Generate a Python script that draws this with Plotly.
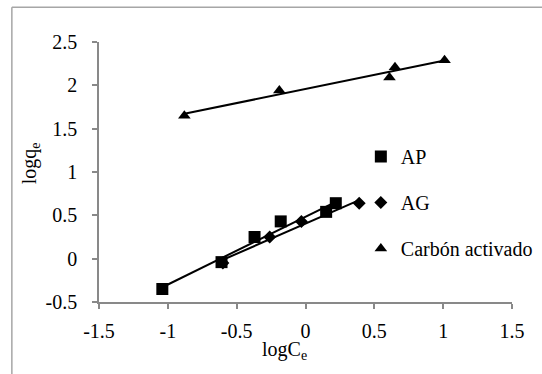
import numpy as np
import plotly.graph_objects as go

# Data
ap_x = [-1.04, -0.61, -0.37, -0.18, 0.15, 0.22]
ap_y = [-0.35, -0.04, 0.25, 0.43, 0.54, 0.64]
ag_x = [-0.60, -0.26, -0.03, 0.39]
ag_y = [-0.05, 0.25, 0.43, 0.64]
ca_x = [-0.88, -0.19, 0.61, 0.65, 1.01]
ca_y = [1.65, 1.94, 2.09, 2.21, 2.29]
series_names = ["AP", "AG", "Carbón activado"]
x_ticks = [-1.5, -1, -0.5, 0, 0.5, 1, 1.5]
x_ticktext = ["-1.5", "-1", "-0.5", "0", "0.5", "1", "1.5"]
y_ticks = [-0.5, 0, 0.5, 1, 1.5, 2, 2.5]
y_ticktext = ["-0.5", "0", "0.5", "1", "1.5", "2", "2.5"]
x_title = "logC<sub>e</sub>"
y_title = "logq<sub>e</sub>"

FONT = "Liberation Serif"
FS = 20
AXIS_GRAY = "#898989"

fig = go.Figure()

def trend(xs, ys):
    m, b = np.polyfit(xs, ys, 1)
    lx = np.array([min(xs), max(xs)])
    return lx, m * lx + b

symbols = ["square", "diamond", "triangle-up"]
sizes = [12, 10, 11]
data = [(ap_x, ap_y), (ag_x, ag_y), (ca_x, ca_y)]

for (xs, ys), name, sym, sz in zip(data, series_names, symbols, sizes):
    lx, ly = trend(xs, ys)
    fig.add_trace(go.Scatter(x=lx, y=ly, mode="lines",
                             line=dict(color="black", width=2),
                             showlegend=False, hoverinfo="skip"))
for i, ((xs, ys), name, sym, sz) in enumerate(zip(data, series_names, symbols, sizes)):
    fig.add_trace(go.Scatter(x=xs, y=ys, mode="markers", name=name,
                             legendgroup=f"g{i}",
                             marker=dict(symbol=sym, size=sz, color="black",
                                         line=dict(width=0))))

fig.update_layout(
    width=542, height=374,
    margin=dict(l=99, r=30, t=42, b=72, autoexpand=False),
    paper_bgcolor="white", plot_bgcolor="white",
    font=dict(family=FONT, size=FS, color="black"),
    showlegend=True,
    legend=dict(x=0.634, y=0.635, xanchor="left", yanchor="top",
                bgcolor="rgba(0,0,0,0)", tracegroupgap=17,
                font=dict(family=FONT, size=FS, color="black")),
    xaxis=dict(range=[-1.5, 1.5], tickvals=x_ticks, ticktext=x_ticktext,
               showgrid=False, zeroline=False, showline=True,
               linecolor=AXIS_GRAY, linewidth=1.5,
               ticks="outside", ticklen=5, tickcolor=AXIS_GRAY, tickwidth=1.5,
               ticklabelstandoff=5, automargin=False,
               tickfont=dict(family=FONT, size=FS, color="black")),
    yaxis=dict(range=[-0.5, 2.5], tickvals=y_ticks, ticktext=y_ticktext,
               showgrid=False, zeroline=False, showline=True,
               linecolor=AXIS_GRAY, linewidth=1.5,
               ticks="outside", ticklen=5, tickcolor=AXIS_GRAY, tickwidth=1.5,
               ticklabelstandoff=11, automargin=False,
               tickfont=dict(family=FONT, size=FS, color="black")),
)

fig.add_annotation(text=x_title, xref="paper", yref="paper",
                   x=0.45, y=-0.187, xanchor="center", yanchor="middle",
                   showarrow=False, font=dict(family=FONT, size=FS, color="black"))
fig.add_annotation(text=y_title, xref="paper", yref="paper", textangle=-90,
                   x=-0.167, y=0.534, xanchor="center", yanchor="middle",
                   showarrow=False, font=dict(family=FONT, size=FS, color="black"))

# Chart-area frame (left and top edges visible in reference)
fig.add_shape(type="line", xref="paper", yref="paper",
              x0=-0.211, x1=-0.211, y0=1.134, y1=-0.5,
              line=dict(color="#a6a6a6", width=1.5))
fig.add_shape(type="line", xref="paper", yref="paper",
              x0=-0.211, x1=1.2, y0=1.134, y1=1.134,
              line=dict(color="#a6a6a6", width=1.5))

fig.write_html("out.html")
